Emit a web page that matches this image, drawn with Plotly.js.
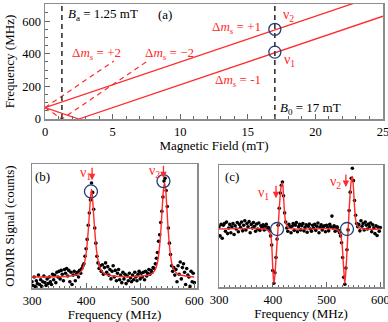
<!DOCTYPE html>
<html><head><meta charset="utf-8">
<script src="https://cdn.plot.ly/plotly-3.0.1.min.js"></script>
<style>html,body{margin:0;padding:0;background:#fff}#chart{width:388px;height:322px}</style>
</head><body><div id="chart"></div>
<script>
// ---------- Panel (a): transition frequencies vs magnetic field ----------
const nu2Field = [0, 25];
const nu2Freq = [70, 770];
const nu1Field = [0, 2.5, 25];
const nu1Freq = [70, 0, 630];
const dmPlus2Field = [0, 5.1];
const dmPlus2Freq = [70, 356];
const dmMinus2Field = [0, 1.25, 7.6];
const dmMinus2Freq = [70, 0, 356];
const baField = [1.25, 1.25];
const b0Field = [17, 17];
const vertFreq = [0, 705];
const markField = [17, 17];
const markFreq = [550, 410];

// ---------- Panel (b): ODMR spectrum ----------
const odmrFreq = [300,302,304,306,308,310,312,314,316,318,
 320,322,324,326,328,330,332,334,336,338,
 340,342,344,346,348,350,352,354,356,358,
 360,362,364,366,368,370,372,374,376,378,
 380,382,384,386,388,390,392,394,396,398,
 400,402,404,406,408,410,412,414,416,418,
 420,422,424,426,428,430,432,434,436,438,
 440,442,444,446,448,450,452,454,456,458,
 460,462,464,466,468,470,472,474,476,478,
 480,482,484,486,488,490,492,494,496,498,
 500,502,504,506,508,510,512,514,516,518,
 520,522,524,526,528,530,532,534,536,538,
 540,542,544,546,548,550,552,554,556,558,
 560,562,564,566,568,570,572,574,576,578,
 580,582,584,586,588,590,592,594,596,598,
 600];
const odmrSignal = [-0.05,-0.09,0.00,-0.10,-0.04,-0.07,0.02,-0.08,-0.03,-0.10,
 -0.05,0.01,-0.06,-0.09,-0.02,-0.07,0.00,-0.05,-0.08,0.03,
 -0.03,0.02,-0.06,0.05,0.00,0.06,-0.02,0.07,0.03,-0.04,
 0.08,0.04,0.09,0.01,0.07,-0.05,0.05,-0.08,0.02,0.06,
 -0.04,0.03,0.05,0.00,0.07,0.04,0.09,0.12,0.14,0.22,
 0.30,0.40,0.55,0.68,0.82,1.00,0.90,0.72,0.52,0.36,
 0.22,0.15,0.09,0.12,0.06,0.13,0.03,0.10,0.15,0.05,
 0.11,0.02,0.08,-0.02,0.06,0.12,0.00,0.07,-0.04,0.04,
 0.08,-0.03,0.02,-0.06,0.05,-0.02,0.03,-0.07,0.01,-0.04,
 0.04,-0.01,-0.05,0.02,-0.03,0.05,0.00,-0.04,0.03,0.06,
 -0.02,0.04,0.00,0.05,-0.03,0.06,0.01,0.04,0.08,0.03,
 0.07,0.05,0.10,0.09,0.14,0.20,0.26,0.38,0.45,0.58,
 0.70,0.85,1.02,1.05,0.92,0.75,0.52,0.36,0.24,0.12,
 0.06,0.10,0.02,0.08,-0.05,0.12,0.03,0.16,-0.02,0.10,
 0.14,0.05,-0.08,0.09,0.02,0.00,-0.10,0.06,-0.05,0.04,
 -0.06];
const odmrFitFreq = [300,370,385,392,396,400,403,406,408,410,412,414,417,420,424,428,435,450,
 505,520,527,531,535,538,541,543,545,547,549,552,555,559,563,570,585,600];
const odmrFitSignal = [0,0.01,0.03,0.07,0.13,0.25,0.42,0.66,0.83,0.93,0.83,0.66,0.42,0.25,0.13,0.07,0.03,0.01,
 0.01,0.03,0.07,0.13,0.28,0.48,0.76,0.93,1.0,0.93,0.76,0.48,0.28,0.13,0.07,0.03,0.01,0];
const odmrMarkFreq = [409, 543];
const odmrMarkSignal = [0.91, 1.02];

// ---------- Panel (c): derivative ODMR spectrum ----------
const derivFreq = odmrFreq.slice();
const derivSignal = [0.05,-0.15,0.10,-0.20,0.08,0.12,-0.05,0.15,-0.10,0.02,
 0.10,-0.08,0.05,0.12,-0.12,0.07,0.00,0.14,-0.06,0.10,
 0.03,0.15,-0.04,0.08,0.18,-0.02,0.12,0.05,0.16,-0.08,
 0.10,0.02,0.14,0.06,-0.05,0.11,0.00,0.13,-0.03,0.07,
 0.04,0.09,-0.02,0.06,0.10,0.00,0.03,-0.04,-0.15,-0.35,
 -0.90,-1.18,-0.95,-0.62,-0.22,0.08,0.45,0.78,0.95,1.02,
 0.72,0.35,0.15,0.02,-0.05,0.10,0.04,-0.08,0.06,0.12,
 -0.03,0.08,0.14,-0.06,0.05,0.10,-0.02,0.07,0.12,-0.04,
 0.03,0.09,-0.07,0.06,0.11,0.00,-0.05,0.08,0.02,0.10,
 -0.03,0.06,0.13,-0.08,0.04,0.09,-0.02,0.05,0.07,-0.06,
 0.08,0.03,-0.04,0.10,0.05,0.28,0.02,0.07,-0.05,0.04,
 0.04,-0.03,-0.08,-0.15,-0.30,-0.62,-1.05,-1.20,-0.85,-0.45,
 -0.02,0.40,0.80,1.10,1.32,1.05,0.62,0.30,0.12,0.05,
 0.10,-0.04,0.18,0.06,0.12,-0.02,0.15,0.08,0.00,0.11,
 0.05,0.13,-0.06,0.09,0.02,-0.10,0.07,-0.14,0.04,-0.05,
 0.03];
const derivFitFreq = [300,385,392,396,398,400,402,404,406,408,
 410,412,414,416,418,420,422,425,430,440,
 515,522,526,529,531,533,534,536,538,540,
 542,544,546,548,550,552,555,560,570,600];
const derivFitSignal = [0,0,-0.03,-0.12,-0.35,-0.85,-1.18,-1.0,-0.65,-0.3,
 0.05,0.42,0.75,0.95,1.0,0.72,0.35,0.1,0.02,0,
 0,-0.03,-0.12,-0.35,-0.7,-1.05,-1.18,-0.9,-0.5,-0.05,
 0.4,0.78,1.05,1.14,0.9,0.5,0.15,0.03,0,0];
const derivMarkFreq = [408, 538];
const derivMarkSignal = [0, 0];

// ---------- styling ----------
const RED = '#ff2a2a';
const NAVY = '#23407a';
const SERIF = '"Liberation Serif", "Times New Roman", serif';

const traces = [
  {x: nu2Field, y: nu2Freq, xaxis: 'x', yaxis: 'y', mode: 'lines', line: {color: RED, width: 1.3}},
  {x: nu1Field, y: nu1Freq, xaxis: 'x', yaxis: 'y', mode: 'lines', line: {color: RED, width: 1.3}},
  {x: dmPlus2Field, y: dmPlus2Freq, xaxis: 'x', yaxis: 'y', mode: 'lines', line: {color: RED, width: 1.2, dash: '5px,4px'}},
  {x: dmMinus2Field, y: dmMinus2Freq, xaxis: 'x', yaxis: 'y', mode: 'lines', line: {color: RED, width: 1.2, dash: '5px,4px'}},
  {x: baField, y: vertFreq, xaxis: 'x', yaxis: 'y', mode: 'lines', line: {color: '#333', width: 1.6, dash: '5px,4px'}},
  {x: b0Field, y: vertFreq, xaxis: 'x', yaxis: 'y', mode: 'lines', line: {color: '#333', width: 1.6, dash: '5px,4px'}},
  {x: markField, y: markFreq, xaxis: 'x', yaxis: 'y', mode: 'markers', marker: {symbol: 'circle-open', size: 12, color: NAVY, line: {width: 1.3, color: NAVY}}},

  {x: odmrFreq, y: odmrSignal, xaxis: 'x2', yaxis: 'y2', mode: 'markers', marker: {color: '#000', size: 3.6}},
  {x: odmrFitFreq, y: odmrFitSignal, xaxis: 'x2', yaxis: 'y2', mode: 'lines', line: {color: RED, width: 1.4, shape: 'spline'}},
  {x: odmrMarkFreq, y: odmrMarkSignal, xaxis: 'x2', yaxis: 'y2', mode: 'markers', marker: {symbol: 'circle-open', size: 13, color: NAVY, line: {width: 1.3, color: NAVY}}},

  {x: derivFreq, y: derivSignal, xaxis: 'x3', yaxis: 'y3', mode: 'markers', marker: {color: '#000', size: 3.6}},
  {x: derivFitFreq, y: derivFitSignal, xaxis: 'x3', yaxis: 'y3', mode: 'lines', line: {color: RED, width: 1.4, shape: 'spline'}},
  {x: derivMarkFreq, y: derivMarkSignal, xaxis: 'x3', yaxis: 'y3', mode: 'markers', marker: {symbol: 'circle-open', size: 13, color: NAVY, line: {width: 1.3, color: NAVY}}}
];

const frame = {showline: true, linecolor: '#8c8c8c', linewidth: 1.5, mirror: true, zeroline: false, showgrid: false,
  ticks: 'inside', tickcolor: '#666', tickwidth: 1, ticklen: 5, ticklabeloverflow: 'allow',
  tickfont: {family: SERIF, size: 12.5, color: '#000'}};
const titleFont = {family: SERIF, size: 13, color: '#000'};
const annFont = {family: SERIF, size: 13, color: '#000'};
const redFont = {family: SERIF, size: 13, color: RED};
const nuFont = {family: SERIF, size: 14, color: RED};

const layout = {
  width: 388, height: 322, margin: {l: 0, r: 0, t: 0, b: 0}, showlegend: false,
  paper_bgcolor: '#fff', plot_bgcolor: '#fff', font: {family: SERIF, size: 13, color: '#000'},
  xaxis: Object.assign({}, frame, {domain: [45/388, 383/388], anchor: 'y', range: [0, 25], tickvals: [0,5,10,15,20,25],
    minor: {dtick: 1, ticks: 'inside', ticklen: 3, tickcolor: '#666'},
    title: {text: 'Magnetic Field (mT)', font: titleFont, standoff: 0}}),
  yaxis: Object.assign({}, frame, {domain: [1-119/322, 1-4/322], anchor: 'x', range: [0, 705], tickvals: [0,200,400,600],
    minor: {dtick: 50, ticks: 'inside', ticklen: 3, tickcolor: '#666'},
    title: {text: 'Frequency (MHz)', font: titleFont, standoff: 4}}),
  xaxis2: Object.assign({}, frame, {domain: [32/388, 197/388], anchor: 'y2', range: [300, 605], tickvals: [300,400,500,600],
    minor: {dtick: 10, ticks: 'inside', ticklen: 2, tickcolor: '#666'},
    title: {text: 'Frequency (MHz)', font: titleFont, standoff: 0}}),
  yaxis2: Object.assign({}, frame, {domain: [1-288/322, 1-164/322], anchor: 'x2', range: [-0.117, 1.202], ticks: '', showticklabels: false,
    title: {text: 'ODMR Signal (counts)', font: titleFont, standoff: 13}}),
  xaxis3: Object.assign({}, frame, {domain: [219/388, 383/388], anchor: 'y3', range: [300, 605], tickvals: [300,400,500,600],
    minor: {dtick: 10, ticks: 'inside', ticklen: 2, tickcolor: '#666'},
    title: {text: 'Frequency (MHz)', font: titleFont, standoff: 0}}),
  yaxis3: Object.assign({}, frame, {domain: [1-287/322, 1-165/322], anchor: 'x3', range: [-1.26, 1.39], ticks: '', showticklabels: false}),
  annotations: [
    {xref: 'x', yref: 'y', x: 1.55, y: 643, xanchor: 'left', text: '<i>B</i><sub>a</sub> = 1.25 mT', showarrow: false, font: annFont},
    {xref: 'x', yref: 'y', x: 8.9, y: 643, text: '(a)', showarrow: false, font: annFont},
    {xref: 'x', yref: 'y', x: 1.85, y: 404, xanchor: 'left', text: 'Δ<i>m<sub>s</sub></i> = +2', showarrow: false, font: redFont},
    {xref: 'x', yref: 'y', x: 7.26, y: 404, xanchor: 'left', text: 'Δ<i>m<sub>s</sub></i> = −2', showarrow: false, font: redFont},
    {xref: 'x', yref: 'y', x: 16.15, y: 563, xanchor: 'right', text: 'Δ<i>m<sub>s</sub></i> = +1', showarrow: false, font: redFont},
    {xref: 'x', yref: 'y', x: 16.15, y: 239, xanchor: 'right', text: 'Δ<i>m<sub>s</sub></i> = -1', showarrow: false, font: redFont},
    {xref: 'x', yref: 'y', x: 17.45, y: 637, xanchor: 'left', text: 'ν<sub>2</sub>', showarrow: false, font: nuFont},
    {xref: 'x', yref: 'y', x: 17.55, y: 361, xanchor: 'left', text: 'ν<sub>1</sub>', showarrow: false, font: nuFont},
    {xref: 'x', yref: 'y', x: 17.2, y: 67, xanchor: 'left', text: '<i>B</i><sub>0</sub> = 17 mT', showarrow: false, font: annFont},

    {xref: 'x2', yref: 'y2', x: 320, y: 1.07, text: '(b)', showarrow: false, font: annFont},
    {xref: 'x2', yref: 'y2', x: 398, y: 1.1, text: 'ν<sub>1</sub>', showarrow: false, font: nuFont},
    {xref: 'x2', yref: 'y2', x: 527, y: 1.12, text: 'ν<sub>2</sub>', showarrow: false, font: nuFont},
    {xref: 'x2', yref: 'y2', x: 411, y: 1.03, ax: 0, ay: -14, text: '', showarrow: true, arrowhead: 2, arrowsize: 1, arrowwidth: 1.3, arrowcolor: RED},
    {xref: 'x2', yref: 'y2', x: 543, y: 1.05, ax: 0, ay: -14, text: '', showarrow: true, arrowhead: 2, arrowsize: 1, arrowwidth: 1.3, arrowcolor: RED},

    {xref: 'x3', yref: 'y3', x: 324, y: 1.15, text: '(c)', showarrow: false, font: annFont},
    {xref: 'x3', yref: 'y3', x: 382, y: 0.78, text: 'ν<sub>1</sub>', showarrow: false, font: nuFont},
    {xref: 'x3', yref: 'y3', x: 516, y: 1.02, text: 'ν<sub>2</sub>', showarrow: false, font: nuFont},
    {xref: 'x3', yref: 'y3', x: 406, y: 0.67, ax: 0, ay: -14, text: '', showarrow: true, arrowhead: 2, arrowsize: 1, arrowwidth: 1.3, arrowcolor: RED},
    {xref: 'x3', yref: 'y3', x: 536, y: 0.91, ax: 0, ay: -14, text: '', showarrow: true, arrowhead: 2, arrowsize: 1, arrowwidth: 1.3, arrowcolor: RED}
  ]
};

Plotly.newPlot('chart', traces, layout, {displayModeBar: false, staticPlot: true});
</script>
</body></html>
